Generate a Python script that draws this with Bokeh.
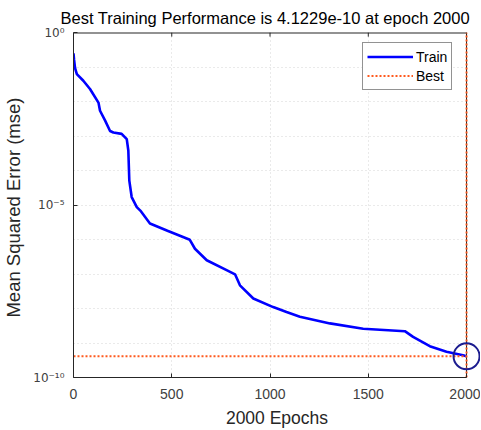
from bokeh.plotting import figure
from bokeh.models import (FixedTicker, LinearAxis, Legend, LegendItem, Range1d,
                          BoxAnnotation)
from bokeh.embed import file_html
from bokeh.resources import INLINE

epochs = [0, 3, 8, 17, 50, 84, 127, 135, 161, 186, 203, 245, 271, 279, 284, 296, 322,
          340, 389, 478, 592, 618, 678, 779, 822, 847, 915, 1016, 1084, 1152, 1305,
          1474, 1686, 1728, 1813, 1898, 1982, 2000]
mse = [2.5e-1, 1.6e-1, 9.3e-2, 6.2e-2, 4.0e-2, 2.3e-2, 9.3e-3, 5.4e-3, 2.8e-3, 1.4e-3,
       1.26e-3, 1.15e-3, 8.1e-4, 3.8e-4, 5.1e-5, 1.7e-5, 8.7e-6,
       6.9e-6, 2.9e-6, 1.8e-6, 9.8e-7, 5.4e-7, 2.5e-7, 1.3e-7, 9.8e-8, 4.7e-8, 1.95e-8,
       1.1e-8, 7.9e-9, 5.8e-9, 3.7e-9, 2.6e-9, 2.2e-9, 1.5e-9, 8.1e-10, 5.6e-10,
       4.4e-10, 4.1229e-10]
best_epoch = 2000
best_perf = 4.1229e-10
x_ticks = [0, 500, 1000, 1500, 2000]
y_ticks = [1e-10, 1e-5, 1e0]
y_tick_labels = {1e-10: "10\u207b\u00b9\u2070", 1e-5: "10\u207b\u2075", 1e0: "10\u2070"}
y_grid = [10.0 ** -k for k in range(11)]
y_min, y_max = 1e-10, 1e0
x_min, x_max = 0, 2000

FONT = "Liberation Sans"
AX = "#262626"
TICK = "#404040"
GRID = "#d4d4d4"
ORANGE = "#ff5a1e"

# the frame reaches a little past epoch 2000 so the circle round the best point is not cut
p = figure(width=480, height=430, output_backend="svg", toolbar_location=None,
           y_axis_type="log", x_range=Range1d(x_min, 2071), y_range=Range1d(y_min, y_max),
           min_border_left=73, min_border_right=0, min_border_top=32, min_border_bottom=52,
           title="Best Training Performance is 4.1229e-10 at epoch 2000")
p.title.align = "left"
p.title.text_font = FONT
p.title.text_font_size = "16.5px"
p.title.text_font_style = "normal"
p.title.text_color = "#000000"
p.title.offset = -13
p.title.standoff = 12
p.outline_line_color = None

bottom = p.below[0]
left = p.left[0]

for ax in (bottom, left):
    ax.major_label_text_font = FONT
    ax.major_label_text_font_size = "14px"
    ax.major_label_text_color = TICK
    ax.axis_label_text_font = FONT
    ax.axis_label_text_font_size = "17.5px"
    ax.axis_label_text_font_style = "normal"
    ax.axis_label_text_color = AX
    ax.axis_line_color = AX
    ax.major_tick_line_color = AX
    ax.major_tick_in = 4
    ax.major_tick_out = 0
    ax.minor_tick_line_color = None

bottom.ticker = FixedTicker(ticks=x_ticks)
bottom.bounds = (x_min, x_max)
bottom.axis_label = "2000 Epochs"
bottom.major_label_standoff = 11
bottom.axis_label_standoff = 6
left.ticker = FixedTicker(ticks=y_ticks)
left.major_label_overrides = y_tick_labels
left.major_label_text_font = "DejaVu Sans"
left.major_label_text_font_size = "12px"
left.major_label_standoff = 9
left.axis_label = "Mean Squared Error  (mse)"
left.axis_label_text_font_size = "18.5px"
left.axis_label_standoff = 6

p.xgrid.ticker = FixedTicker(ticks=x_ticks)
p.ygrid.ticker = FixedTicker(ticks=y_grid)
for g in (p.xgrid[0], p.ygrid[0]):
    g.grid_line_color = GRID
    g.grid_line_dash = "1 3"
    g.grid_line_width = 1

# blank the strip beyond epoch 2000 (outside the axes box)
p.add_layout(BoxAnnotation(left=x_max, fill_color="white", fill_alpha=1,
                           line_color=None, level="underlay"))

# top and right edges of the axes box, with inward ticks on the top edge
p.line([x_min, x_max], [y_max, y_max], line_color=AX, line_width=2)
p.segment(x0=x_ticks, y0=[y_max] * len(x_ticks), x1=x_ticks,
          y1=[y_max * 10 ** -0.12] * len(x_ticks), line_color=AX, line_width=1)
p.line([x_max, x_max], [y_min, y_max], line_color=AX, line_width=1)

train = p.line(epochs, mse, line_color="#0000ff", line_width=2.6)
best_h = p.line([x_min, best_epoch], [best_perf, best_perf], line_color=ORANGE,
                line_width=2, line_dash="2 2")
p.line([best_epoch, best_epoch], [y_min, y_max], line_color=ORANGE,
       line_width=2, line_dash="2 2")
p.scatter([best_epoch], [best_perf], marker="circle", size=26, fill_color=None,
          line_color="#1c1c8f", line_width=2)

legend = Legend(items=[LegendItem(label="Train", renderers=[train]),
                       LegendItem(label="Best", renderers=[best_h])],
                location=(289, 287))
legend.margin = 0
legend.padding = 4
legend.spacing = 0
legend.glyph_width = 46
legend.glyph_height = 19
legend.label_height = 19
legend.label_text_font = FONT
legend.label_text_font_size = "14px"
legend.label_text_color = "#000000"
legend.label_standoff = 3
legend.border_line_color = AX
legend.border_line_width = 1
legend.background_fill_alpha = 1
p.add_layout(legend)

open("out.html", "w").write(file_html(p, INLINE))
